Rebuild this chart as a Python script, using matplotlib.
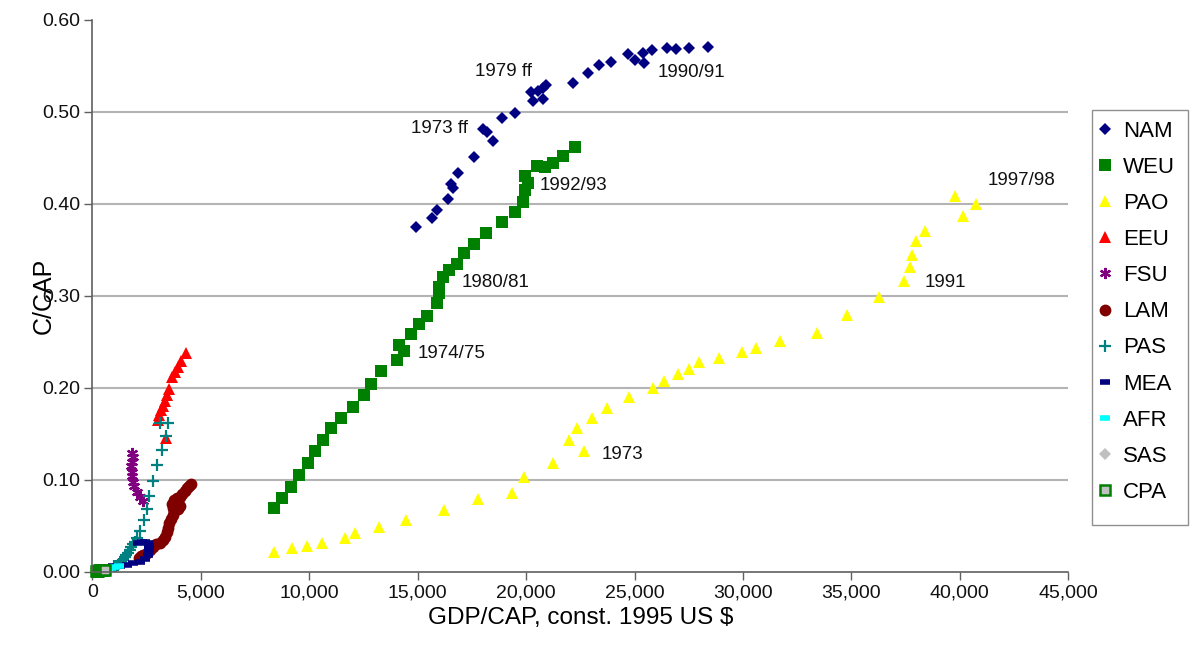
import matplotlib
matplotlib.use("Agg")
import matplotlib.pyplot as plt
from matplotlib.ticker import FuncFormatter
from matplotlib.lines import Line2D
from matplotlib.patches import Rectangle

plt.rcParams['font.family'] = ['Liberation Sans', 'DejaVu Sans']

# GDP per capita (const. 1995 US$) and carbon per capita, by region
nam_gdp = [14921, 15646, 15904, 16411, 16642, 16522, 16873, 17597, 18459, 18210,
           17998, 18875, 19502, 20332, 20793, 20226, 20563, 20793, 20904, 22149,
           22841, 23376, 23930, 24714, 25023, 25406, 25438, 25821, 26513, 26914,
           27514, 28404]
nam_cap = [0.375, 0.385, 0.393, 0.405, 0.417, 0.422, 0.434, 0.451, 0.468, 0.478,
           0.482, 0.493, 0.499, 0.512, 0.514, 0.522, 0.523, 0.526, 0.529, 0.531,
           0.542, 0.551, 0.554, 0.563, 0.556, 0.564, 0.553, 0.567, 0.570, 0.569,
           0.570, 0.571]

weu_gdp = [8372, 8755, 9142, 9525, 9940, 10263, 10618, 11015, 11476, 12030,
           12523, 12846, 13307, 14031, 14368, 14137, 14705, 15046, 15443, 15890,
           15982, 15982, 16153, 16444, 16799, 17149, 17611, 18150, 18902, 19488,
           19871, 19963, 20101, 19963, 20489, 20872, 21227, 21716, 22255]
weu_cap = [0.070, 0.080, 0.092, 0.105, 0.119, 0.132, 0.144, 0.156, 0.167, 0.179,
           0.192, 0.204, 0.218, 0.230, 0.240, 0.247, 0.259, 0.270, 0.278, 0.292,
           0.303, 0.310, 0.321, 0.328, 0.335, 0.347, 0.357, 0.369, 0.380, 0.391,
           0.402, 0.415, 0.423, 0.430, 0.441, 0.440, 0.445, 0.452, 0.462]

pao_gdp = [8372, 9188, 9880, 10572, 11647, 12122, 13229, 14460, 16199, 17758,
           19326, 19922, 21218, 21997, 22334, 22680, 23030, 23731, 24765, 25858,
           26365, 26988, 27495, 27966, 28888, 29940, 30581, 31693, 33422, 34797,
           36268, 37417, 37717, 37790, 37980, 38413, 39769, 40166, 40729]
pao_cap = [0.022, 0.026, 0.028, 0.032, 0.037, 0.042, 0.049, 0.057, 0.067, 0.079,
           0.086, 0.103, 0.118, 0.143, 0.156, 0.131, 0.167, 0.178, 0.190, 0.200,
           0.208, 0.215, 0.221, 0.228, 0.233, 0.239, 0.244, 0.251, 0.260, 0.279,
           0.299, 0.316, 0.331, 0.345, 0.360, 0.371, 0.409, 0.387, 0.400]

eeu_gdp = [4299, 4068, 3958, 3805, 3653, 3542, 3450, 3344, 3238, 3146, 3081, 3035, 3390]
eeu_cap = [0.238, 0.229, 0.223, 0.217, 0.212, 0.199, 0.192, 0.186, 0.180, 0.176,
           0.171, 0.165, 0.146]

fsu_gdp = [1808, 1854, 1808, 1780, 1808, 1830, 1882, 1928, 2039, 2191, 2343]
fsu_cap = [0.129, 0.125, 0.120, 0.115, 0.109, 0.104, 0.098, 0.093, 0.087, 0.082, 0.077]

lam_gdp = [2150, 2250, 2350, 2500, 2650, 2800, 2950, 3100, 3250, 3350, 3420, 3480,
           3550, 3620, 3700, 3760, 3950, 4050, 3700, 3690, 3780, 3900, 4050, 4150,
           4250, 4350, 4450, 4560]
lam_cap = [0.015, 0.017, 0.019, 0.021, 0.024, 0.027, 0.030, 0.032, 0.035, 0.038,
           0.043, 0.048, 0.053, 0.058, 0.062, 0.066, 0.068, 0.072, 0.070, 0.074,
           0.078, 0.080, 0.082, 0.085, 0.088, 0.091, 0.094, 0.096]

pas_gdp = [1000, 1080, 1160, 1240, 1320, 1400, 1480, 1560, 1640, 1720, 1800, 1870,
           1950, 2039, 2191, 2375, 2528, 2620, 2776, 2990, 3191, 3390, 3113, 3497]
pas_cap = [0.006, 0.007, 0.008, 0.009, 0.011, 0.013, 0.016, 0.018, 0.021, 0.024,
           0.027, 0.030, 0.033, 0.037, 0.045, 0.056, 0.069, 0.083, 0.099, 0.116,
           0.133, 0.148, 0.162, 0.162]

mea_gdp = [959, 1268, 1577, 1882, 2191, 2422, 2574, 2620, 2620, 2574, 2422, 2270, 2113]
mea_cap = [0.006, 0.0065, 0.008, 0.0095, 0.011, 0.014, 0.0185, 0.024, 0.028, 0.032,
           0.033, 0.0325, 0.031]

afr_gdp = [484, 669, 853, 1038, 1222]
afr_cap = [0.0033, 0.0038, 0.0043, 0.0054, 0.0065]

sas_gdp = [330, 380, 430, 480, 530]
sas_cap = [0.0015, 0.0017, 0.0018, 0.0020, 0.0021]

cpa_gdp = [150, 190, 230, 270, 310, 350, 400, 450, 500, 590]
cpa_cap = [0.0010, 0.0012, 0.0014, 0.0016, 0.0018, 0.0019, 0.0021, 0.0022, 0.0023, 0.0024]

# text labels placed next to selected years
notes = [("1979 ff", 17643, 0.5435), ("1973 ff", 14691, 0.4826),
         ("1990/91", 26084, 0.5424), ("1992/93", 20641, 0.4196),
         ("1980/81", 17044, 0.3152), ("1974/75", 15014, 0.2380),
         ("1973", 23501, 0.1272), ("1991", 38399, 0.3152),
         ("1997/98", 41259, 0.4250)]

# name, x, y, marker style
series = [
    ("NAM", nam_gdp, nam_cap, dict(marker='D', ms=6, color='#000080', mew=0)),
    ("WEU", weu_gdp, weu_cap, dict(marker='s', ms=8, color='#008000', mew=0)),
    ("PAO", pao_gdp, pao_cap, dict(marker='^', ms=8.5, color='#ffff00', mew=0)),
    ("EEU", eeu_gdp, eeu_cap, dict(marker='^', ms=8.5, color='#ff0000', mew=0)),
    ("FSU", fsu_gdp, fsu_cap, dict(marker=(6, 2, 0), ms=8, color='#800080', mew=1.6)),
    ("LAM", lam_gdp, lam_cap, dict(marker='o', ms=8.5, color='#800000', mew=0)),
    ("PAS", pas_gdp, pas_cap, dict(marker='+', ms=8, color='#008080', mew=1.6)),
    ("MEA", mea_gdp, mea_cap, dict(marker='_', ms=7, color='#000080', mew=4)),
    ("AFR", afr_gdp, afr_cap, dict(marker='_', ms=7, color='#00ffff', mew=4)),
    ("SAS", sas_gdp, sas_cap, dict(marker='D', ms=6, color='#c0c0c0', mew=0)),
    ("CPA", cpa_gdp, cpa_cap, dict(marker='s', ms=7, markerfacecolor='#c0c0c0',
                                   markeredgecolor='#008000', mew=1.8)),
]

fig = plt.figure(figsize=(11.9, 6.45), dpi=100)
ax = fig.add_axes([0.0777, 0.1132, 0.82, 0.8558])

handles = []
for name, xs, ys, style in series:
    ax.plot(xs, ys, linestyle='none', clip_on=False, **style)
    handles.append(Line2D([], [], linestyle='none', label=name, **style))

for text, x, y in notes:
    ax.text(x, y, text, ha='left', va='center', fontsize=13.5, color='#111111')

ax.set_xlim(0, 45000)
ax.set_ylim(0, 0.6)
ax.set_xticks(range(0, 45001, 5000))
ax.set_yticks([i / 10 for i in range(7)])
ax.xaxis.set_major_formatter(FuncFormatter(lambda v, p: f"{int(v):,}"))
ax.yaxis.set_major_formatter(FuncFormatter(lambda v, p: f"{v:.2f}"))

for y in [0.1, 0.2, 0.3, 0.4, 0.5]:
    ax.axhline(y, color='#b4b4b4', lw=1.5, zorder=0)

for side in ['top', 'right']:
    ax.spines[side].set_visible(False)
for side in ['left', 'bottom']:
    ax.spines[side].set_color('#606060')
    ax.spines[side].set_linewidth(1.2)
ax.tick_params(direction='out', length=6, width=1, color='#606060',
               labelsize=14, labelcolor='#111111', pad=3)

ax.set_xlabel("GDP/CAP, const. 1995 US $", fontsize=17.5, labelpad=4)
ax.set_ylabel("C/CAP", fontsize=18, labelpad=-10)

# legend box drawn separately so it can be taller than the entries
fig.patches.append(Rectangle((0.9176, 0.186), 0.0806, 0.6435, transform=fig.transFigure,
                             facecolor='white', edgecolor='#909090', lw=1.0, zorder=1))
leg = fig.legend(handles=handles, loc='upper left', bbox_to_anchor=(0.914, 0.83),
                 frameon=False, fontsize=16, handlelength=0.6,
                 handletextpad=0.5, labelspacing=0.68, borderpad=0.5,
                 borderaxespad=0)

fig.savefig("out.png", dpi=100)
